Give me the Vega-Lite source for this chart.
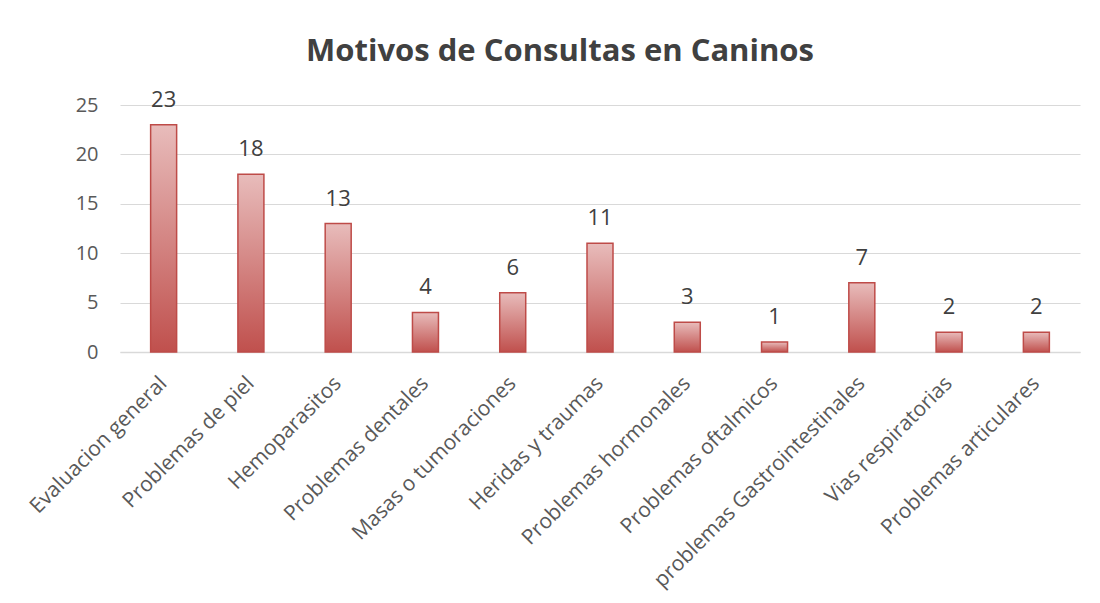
{
  "$schema": "https://vega.github.io/schema/vega-lite/v6.json",
  "autosize": "none",
  "width": 960,
  "height": 247,
  "padding": {"left": 120, "top": 105, "right": 20, "bottom": 251},
  "background": "white",
  "title": {
    "text": "Motivos de Consultas en Caninos",
    "font": "Open Sans",
    "fontSize": 31,
    "fontWeight": "bold",
    "color": "#404040",
    "anchor": "middle",
    "dx": -40,
    "offset": 21
  },
  "data": {
    "values": [
      {"motivo": "Evaluacion general", "n": 23},
      {"motivo": "Problemas de piel", "n": 18},
      {"motivo": "Hemoparasitos", "n": 13},
      {"motivo": "Problemas dentales", "n": 4},
      {"motivo": "Masas o tumoraciones", "n": 6},
      {"motivo": "Heridas y traumas", "n": 11},
      {"motivo": "Problemas hormonales", "n": 3},
      {"motivo": "Problemas oftalmicos", "n": 1},
      {"motivo": "problemas Gastrointestinales", "n": 7},
      {"motivo": "Vias respiratorias", "n": 2},
      {"motivo": "Problemas articulares", "n": 2}
    ]
  },
  "encoding": {
    "x": {
      "field": "motivo",
      "type": "nominal",
      "sort": null,
      "title": null,
      "axis": {
        "labelAngle": -45,
        "labelAlign": "right",
        "labelBaseline": "middle",
        "labelFont": "Open Sans",
        "labelFontSize": 21,
        "labelColor": "#595959",
        "labelPadding": 28,
        "ticks": false,
        "domainColor": "#d9d9d9",
        "domainWidth": 1.5,
        "labelLimit": 400
      }
    },
    "y": {
      "field": "n",
      "type": "quantitative",
      "scale": {"domain": [0, 25]},
      "title": null,
      "axis": {
        "values": [0, 5, 10, 15, 20, 25],
        "labelFont": "Open Sans",
        "labelFontSize": 20,
        "labelColor": "#595959",
        "labelPadding": 22,
        "ticks": false,
        "domain": false,
        "gridColor": "#d9d9d9",
        "gridWidth": 1.2
      }
    }
  },
  "layer": [
    {
      "mark": {
        "type": "bar",
        "width": 26,
        "stroke": "#be4b48",
        "strokeWidth": 1.5,
        "color": {
          "gradient": "linear",
          "x1": 0, "y1": 0, "x2": 0, "y2": 1,
          "stops": [
            {"offset": 0, "color": "#e8bcbb"},
            {"offset": 1, "color": "#c0504d"}
          ]
        }
      }
    },
    {
      "mark": {
        "type": "text",
        "baseline": "alphabetic",
        "dy": -18,
        "font": "Open Sans",
        "fontSize": 22,
        "color": "#404040"
      },
      "encoding": {"text": {"field": "n", "type": "quantitative"}}
    }
  ],
  "config": {"view": {"stroke": null}}
}
